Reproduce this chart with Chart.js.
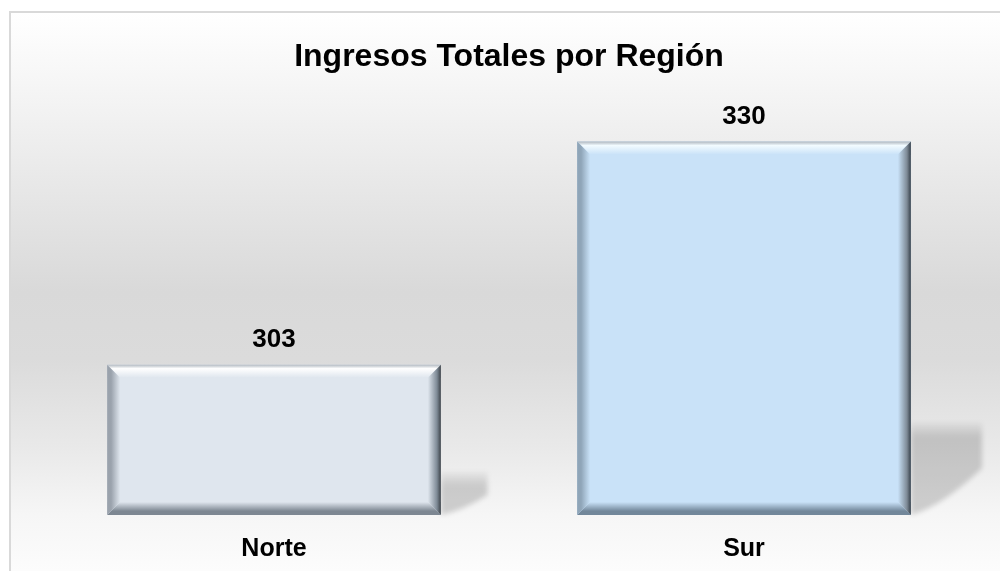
<!DOCTYPE html>
<html lang="es">
<head>
<meta charset="utf-8">
<title>Ingresos Totales por Región</title>
<script src="https://cdn.jsdelivr.net/npm/chart.js@4.4.1/dist/chart.umd.min.js"></script>
<style>
  html, body { margin: 0; padding: 0; background: #fff; }
  #wrap { width: 1000px; height: 571px; }
</style>
</head>
<body>
<div id="wrap"><canvas id="grafico" width="1000" height="571"></canvas></div>
<script>
// —— datos ——
const regiones = ['Norte', 'Sur'];
const ingresos = [303, 330];
const ejeMin = 284.8;
const ejeMax = 336.2;

const fuente = "'Liberation Sans', Arial, sans-serif";

// colores de cada barra: cara, bisel superior, izquierdo, derecho, inferior
const estilos = [
  { cara: '#dfe6ee', sup: '#ffffff', izq: '#9aa2ac', der: '#3c4248', inf: '#7d8792' },
  { cara: '#c9e2f8', sup: '#f2fbff', izq: '#8fa5b8', der: '#36404a', inf: '#72879a' }
];

// Fondo con degradado y marco
const fondo = {
  id: 'fondo',
  beforeDraw(chart) {
    const ctx = chart.ctx;
    ctx.save();
    ctx.fillStyle = '#ffffff';
    ctx.fillRect(0, 0, chart.width, chart.height);
    const g = ctx.createLinearGradient(0, 12, 0, chart.height);
    g.addColorStop(0, '#ffffff');
    g.addColorStop(0.1, '#f8f8f8');
    g.addColorStop(0.5, '#d9d9d9');
    g.addColorStop(0.62, '#dbdbdb');
    g.addColorStop(0.78, '#e9e9e9');
    g.addColorStop(0.9, '#f6f6f6');
    g.addColorStop(1, '#fcfcfc');
    ctx.fillStyle = g;
    ctx.fillRect(11, 13, chart.width - 11, chart.height - 13);
    ctx.strokeStyle = '#d9d9d9';
    ctx.lineWidth = 2;
    ctx.strokeRect(10, 12, chart.width + 10, chart.height + 10);
    ctx.restore();
  }
};

// base real de la barra (la escala no empieza en cero)
function baseBarra(chart, bar) {
  return Math.min(bar.base, chart.chartArea.bottom);
}

// Sombra en perspectiva detrás de cada barra
const sombras = {
  id: 'sombras',
  beforeDatasetsDraw(chart) {
    const ctx = chart.ctx;
    const meta = chart.getDatasetMeta(0);
    meta.data.forEach(bar => {
      const xr = bar.x + bar.width / 2;
      const base = baseBarra(chart, bar);
      const h = base - bar.y;
      const hs = 0.22 * h + 10;
      const ws = 0.11 * h + 30;
      const d = 0.12 * h + 2;
      ctx.save();
      ctx.filter = 'blur(2.5px)';
      const g = ctx.createLinearGradient(0, base - hs, 0, base - hs + 14);
      g.addColorStop(0, 'rgba(0,0,0,0.03)');
      g.addColorStop(1, 'rgba(0,0,0,0.16)');
      ctx.fillStyle = g;
      ctx.beginPath();
      ctx.moveTo(xr, base - hs);
      ctx.lineTo(xr + ws, base - hs);
      ctx.lineTo(xr + ws, base - d);
      ctx.quadraticCurveTo(xr + ws * 0.45, base - d * 0.2, xr, base);
      ctx.closePath();
      ctx.fill();
      ctx.restore();
    });
  }
};

function trapecio(ctx, pts, grad) {
  ctx.beginPath();
  ctx.moveTo(pts[0][0], pts[0][1]);
  for (let i = 1; i < pts.length; i++) ctx.lineTo(pts[i][0], pts[i][1]);
  ctx.closePath();
  ctx.fillStyle = grad;
  ctx.fill();
}

function degradado(ctx, x0, y0, x1, y1, borde, medio, cara) {
  const g = ctx.createLinearGradient(x0, y0, x1, y1);
  g.addColorStop(0, borde);
  g.addColorStop(0.3, medio);
  g.addColorStop(1, cara);
  return g;
}

// Bisel de cada barra
const bisel = {
  id: 'bisel',
  afterDatasetsDraw(chart) {
    const ctx = chart.ctx;
    const meta = chart.getDatasetMeta(0);
    meta.data.forEach((bar, i) => {
      const e = estilos[i];
      const x0 = bar.x - bar.width / 2, x1 = bar.x + bar.width / 2;
      const y0 = bar.y, y1 = baseBarra(chart, bar);
      const b = 13;
      ctx.save();
      // superior
      trapecio(ctx, [[x0, y0], [x1, y0], [x1 - b, y0 + b], [x0 + b, y0 + b]],
        degradado(ctx, 0, y0, 0, y0 + b, '#b0b8c0', e.sup, e.cara));
      // inferior
      trapecio(ctx, [[x0, y1], [x1, y1], [x1 - b, y1 - b], [x0 + b, y1 - b]],
        degradado(ctx, 0, y1, 0, y1 - b, e.inf, e.inf, e.cara));
      // izquierdo
      trapecio(ctx, [[x0, y0], [x0 + b, y0 + b], [x0 + b, y1 - b], [x0, y1]],
        degradado(ctx, x0, 0, x0 + b, 0, e.izq, e.izq, e.cara));
      // derecho
      trapecio(ctx, [[x1, y0], [x1 - b, y0 + b], [x1 - b, y1 - b], [x1, y1]],
        degradado(ctx, x1, 0, x1 - b, 0, e.der, '#7e8a96', e.cara));
      ctx.restore();
    });
  }
};

// Etiquetas de valor sobre las barras
const etiquetas = {
  id: 'etiquetas',
  afterDatasetsDraw(chart) {
    const ctx = chart.ctx;
    const meta = chart.getDatasetMeta(0);
    ctx.save();
    ctx.font = 'bold 26px ' + fuente;
    ctx.fillStyle = '#000';
    ctx.textAlign = 'center';
    ctx.textBaseline = 'middle';
    meta.data.forEach((bar, i) => {
      ctx.fillText(String(ingresos[i]), bar.x, bar.y - 25);
    });
    ctx.restore();
  }
};

new Chart(document.getElementById('grafico'), {
  type: 'bar',
  data: {
    labels: regiones,
    datasets: [{
      label: 'Ingresos',
      data: ingresos,
      backgroundColor: estilos.map(e => e.cara),
      borderWidth: 0,
      barPercentage: 0.71,
      categoryPercentage: 1
    }]
  },
  options: {
    responsive: false,
    animation: false,
    layout: { padding: { top: 12, left: 39, right: 21, bottom: 0 } },
    plugins: {
      legend: { display: false },
      tooltip: { enabled: false },
      title: {
        display: true,
        text: 'Ingresos Totales por Región',
        color: '#000',
        font: { family: fuente, size: 32, weight: 'bold' },
        padding: { top: 26, bottom: 14 }
      }
    },
    scales: {
      x: {
        grid: { display: false, drawTicks: false },
        border: { display: false },
        ticks: { color: '#000', padding: 19, font: { family: fuente, size: 25, weight: 'bold' } },
        afterFit(scale) { scale.height = 56; }
      },
      y: { display: false, min: ejeMin, max: ejeMax }
    }
  },
  plugins: [fondo, sombras, bisel, etiquetas]
});
</script>
</body>
</html>
